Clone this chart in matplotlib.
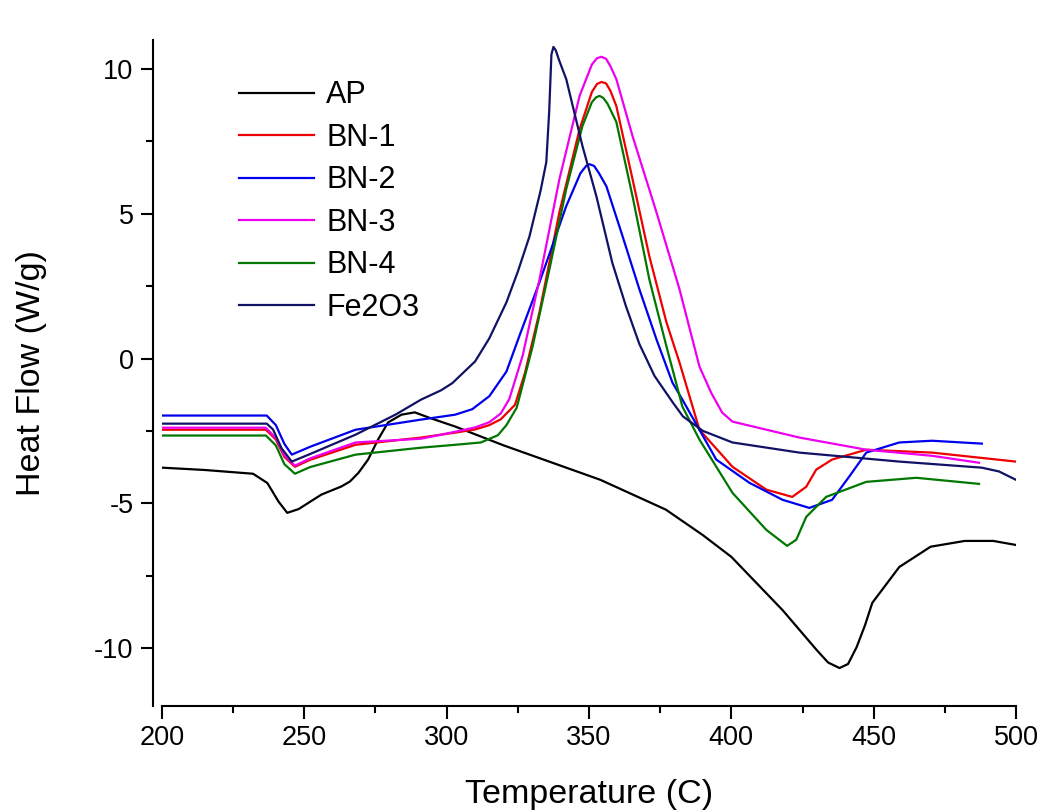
import matplotlib
matplotlib.use('Agg')
import matplotlib.pyplot as plt
from matplotlib.ticker import MultipleLocator

plt.rcParams['font.family'] = ['Liberation Sans', 'DejaVu Sans']
plt.rcParams['axes.unicode_minus'] = False

# DSC curves (temperature in C, heat flow in W/g)
ap_t = [200, 215, 232, 237, 241, 244, 248, 256, 263, 266, 269, 272.4, 275.9, 279.4, 284.1,
        288.8, 294, 303, 320, 340, 354, 377, 390, 400, 418, 430, 434, 438, 441, 444, 447,
        449.5, 459, 470, 482, 492, 500]
ap_v = [-3.77, -3.85, -3.98, -4.3, -4.95, -5.33, -5.2, -4.7, -4.42, -4.25, -3.95, -3.49,
        -2.8, -2.21, -1.94, -1.86, -2.05, -2.35, -3.0, -3.7, -4.19, -5.22, -6.1, -6.85,
        -8.69, -10.07, -10.5, -10.69, -10.55, -9.97, -9.2, -8.44, -7.2, -6.5, -6.3, -6.3,
        -6.44]

bn1_t = [200, 236.5, 240, 243, 246.7, 252, 268, 291, 303, 310, 315, 319, 324, 327.5,
         332.6, 339.6, 346.7, 351, 352.8, 354.4, 356, 357.5, 359.6, 365.3, 371.2, 377.2,
         381.8, 388.8, 400.4, 412.3, 421.4, 426.3, 429.8, 435.4, 447.4, 470.5, 500]
bn1_v = [-2.46, -2.46, -2.8, -3.4, -3.74, -3.5, -2.98, -2.73, -2.56, -2.45, -2.3, -2.1,
         -1.6, -0.5, 1.6, 5.05, 7.92, 9.2, 9.48, 9.55, 9.5, 9.25, 8.72, 6.19, 3.53, 1.25,
         -0.14, -2.46, -3.74, -4.53, -4.78, -4.43, -3.84, -3.49, -3.15, -3.25, -3.56]

bn2_t = [200, 236.8, 240, 243, 245.6, 252, 268, 291, 303, 309, 315, 321, 326, 332.6, 342,
         347, 349, 350.2, 351.8, 353.5, 356.1, 361.8, 367.7, 373.7, 379.3, 382.8, 394.7,
         406.3, 418, 427.4, 435.4, 441.4, 447.4, 459, 470.5, 488]
bn2_v = [-1.97, -1.97, -2.3, -2.95, -3.32, -3.05, -2.46, -2.11, -1.94, -1.75, -1.3, -0.45,
         0.9, 2.63, 5.26, 6.4, 6.65, 6.71, 6.65, 6.4, 5.95, 4.22, 2.39, 0.66, -0.83, -1.42,
         -3.49, -4.29, -4.88, -5.16, -4.88, -4.08, -3.25, -2.9, -2.84, -2.94]

bn3_t = [200, 236.5, 240, 243, 246.7, 252, 268, 291, 303, 310, 315, 319, 322, 326.7,
         332.6, 339.6, 346.7, 351, 352.8, 354.4, 356, 357.5, 359.6, 365.3, 373.7, 381.8,
         388.8, 393, 396.8, 400.4, 423.9, 447.4, 470.5, 487]
bn3_v = [-2.39, -2.39, -2.75, -3.35, -3.7, -3.45, -2.9, -2.77, -2.53, -2.38, -2.2, -1.9,
         -1.4, 0.1, 2.73, 6.19, 9.07, 10.15, 10.37, 10.42, 10.35, 10.1, 9.65, 7.68, 5.05,
         2.39, -0.28, -1.2, -1.87, -2.18, -2.73, -3.15, -3.36, -3.6]

bn4_t = [200, 236.5, 240, 243, 246.7, 252, 268, 291, 303, 312, 318, 321, 324.6, 327,
         330.2, 336.1, 342, 347.7, 351, 352.5, 353.7, 355, 356.5, 359.6, 365.3, 371.2,
         377.2, 382.8, 388.8, 400.4, 412.3, 419.6, 422.8, 426.3, 433.3, 447.4, 465, 487]
bn4_v = [-2.66, -2.66, -3.0, -3.65, -3.98, -3.75, -3.32, -3.08, -2.98, -2.9, -2.65, -2.3,
         -1.7, -0.8, 0.42, 3.08, 5.85, 8.03, 8.85, 9.02, 9.07, 9.0, 8.8, 8.17, 5.6, 2.73,
         0.42, -1.66, -2.8, -4.64, -5.92, -6.47, -6.26, -5.47, -4.78, -4.26, -4.12, -4.33]

fe_t = [200, 236.8, 239, 242, 245.6, 252, 268, 282, 291, 298, 302, 310, 315, 321, 325,
        329.1, 333, 335, 336, 336.8, 337.5, 338.3, 339.5, 342, 347.7, 352.6, 358.2, 363,
        367.7, 373, 379.3, 383, 390, 400.4, 423.9, 459, 488, 494, 500]
fe_v = [-2.25, -2.25, -2.45, -3.1, -3.56, -3.3, -2.63, -1.94, -1.42, -1.1, -0.85, -0.1,
        0.7, 1.94, 3.0, 4.22, 5.8, 6.78, 8.5, 10.5, 10.76, 10.65, 10.3, 9.65, 7.34, 5.6,
        3.3, 1.8, 0.5, -0.6, -1.5, -2.0, -2.5, -2.9, -3.25, -3.56, -3.77, -3.9, -4.19]

series = [
    ('AP', ap_t, ap_v, '#000000'),
    ('BN-1', bn1_t, bn1_v, '#ee0000'),
    ('BN-2', bn2_t, bn2_v, '#0000ee'),
    ('BN-3', bn3_t, bn3_v, '#ee00ee'),
    ('BN-4', bn4_t, bn4_v, '#007700'),
    ('Fe2O3', fe_t, fe_v, '#111166'),
]

fig = plt.figure(figsize=(10.41, 8.11), dpi=100)
ax = fig.add_axes([0.1556, 0.1295, 0.8204, 0.8212])

for name, t, v, col in series:
    ax.plot(t, v, color=col, lw=1.6, label=name)

ax.set_xlim(200, 500)
ax.set_ylim(-12, 11)
ax.xaxis.set_major_locator(MultipleLocator(50))
ax.xaxis.set_minor_locator(MultipleLocator(25))
ax.yaxis.set_major_locator(MultipleLocator(5))
ax.yaxis.set_minor_locator(MultipleLocator(2.5))

for s in ('top', 'right'):
    ax.spines[s].set_visible(False)
ax.spines['left'].set_position(('outward', 6.5))
for s in ('left', 'bottom'):
    ax.spines[s].set_linewidth(1.5)

ax.tick_params(which='major', direction='out', length=9, width=1.5, labelsize=19.5, pad=5)
ax.tick_params(which='minor', direction='out', length=5, width=1.5)

ax.set_xlabel('Temperature (C)', fontsize=24.5, labelpad=20)
ax.set_ylabel('Heat Flow (W/g)', fontsize=24.5, labelpad=34)

ax.legend(loc='upper left', bbox_to_anchor=(0.2296, 0.901), bbox_transform=fig.transFigure,
          frameon=False, fontsize=22, handlelength=2.45, handletextpad=0.4,
          labelspacing=0.41, borderpad=0, borderaxespad=0)

fig.savefig('out.png', dpi=100, facecolor='white')
